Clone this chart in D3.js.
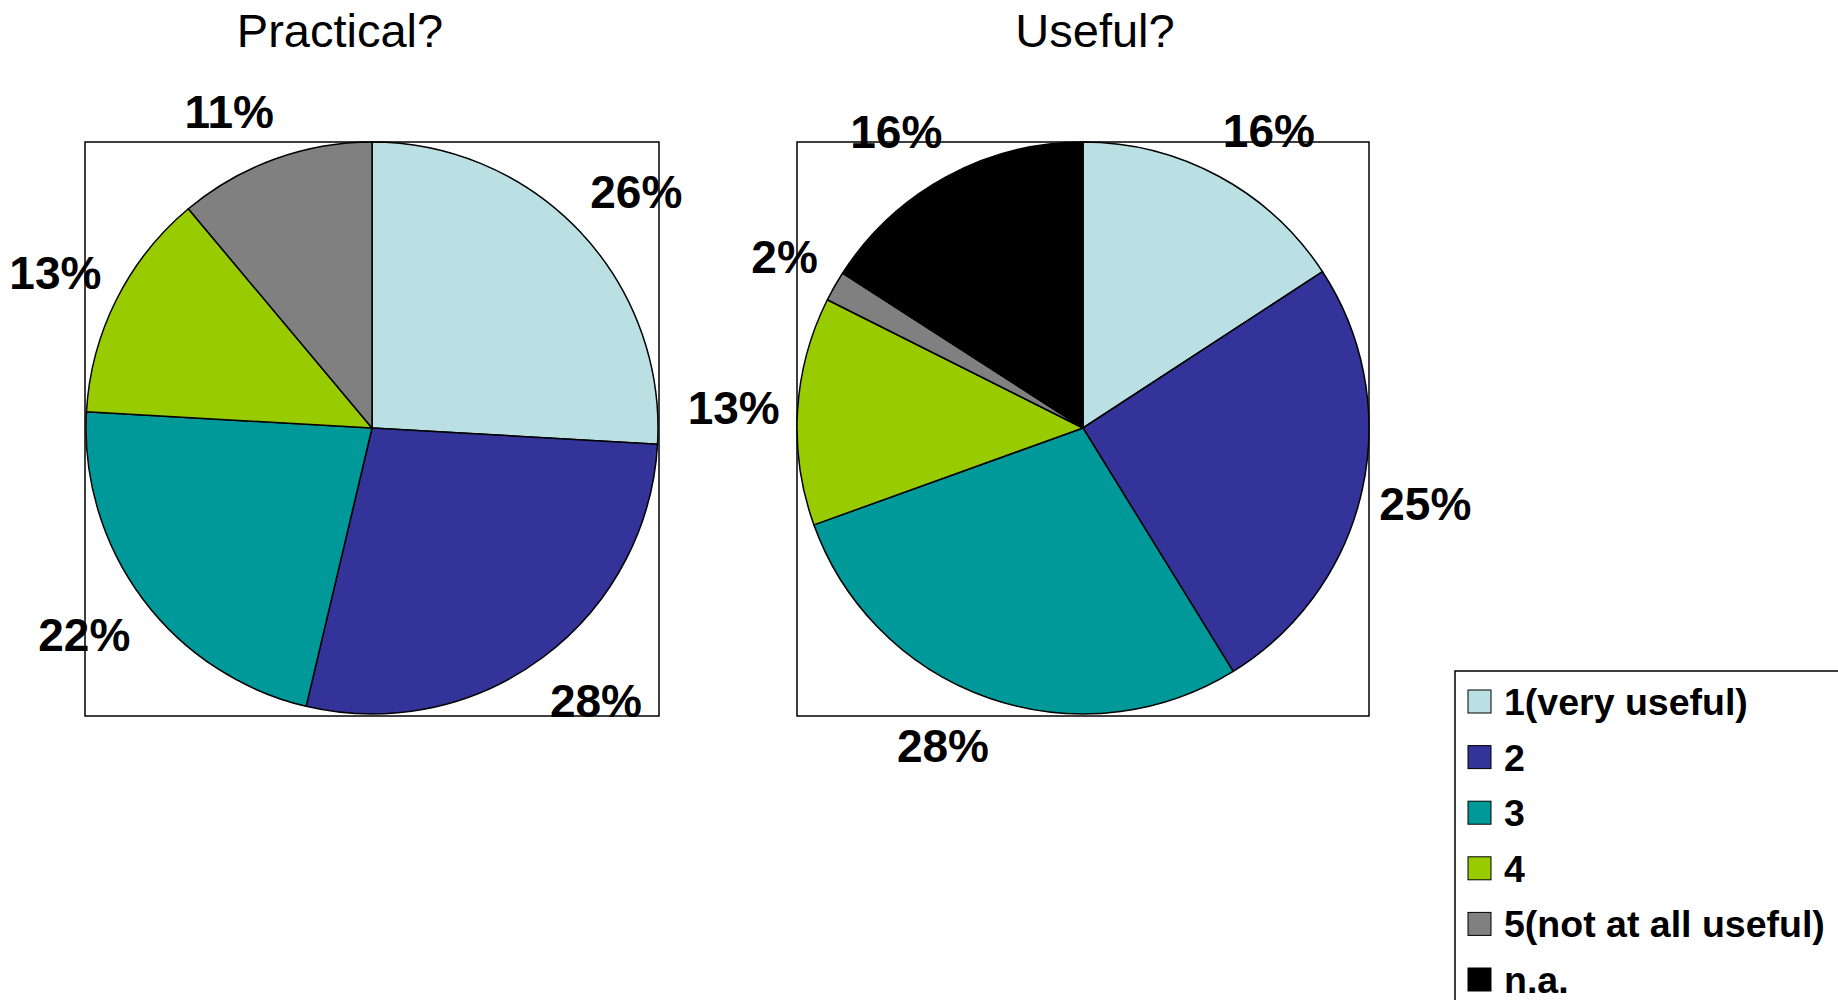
<!DOCTYPE html>
<html>
<head>
<meta charset="utf-8">
<script src="https://cdn.jsdelivr.net/npm/d3@7"></script>
<style>
  html, body { margin: 0; padding: 0; background: #fff; }
  svg { display: block; }
</style>
</head>
<body>
<svg id="chart" width="1838" height="1000"></svg>
<script>
// ---- data ----
const categories = ["1(very useful)", "2", "3", "4", "5(not at all useful)", "n.a."];
const categoryColors = ["#BBE0E3", "#333399", "#009999", "#99CC00", "#808080", "#000000"];
const chartTitles = ["Practical?", "Useful?"];
const practicalValues = [25.9, 27.8, 22.2, 13.0, 11.1];
const usefulValues = [15.8, 25.4, 28.3, 12.9, 1.7, 15.9];

// ---- layout ----
const W = 1838, H = 1000;
const svg = d3.select("#chart");
const font = "'Liberation Sans', Arial, Helvetica, sans-serif";

const panels = [
  { title: chartTitles[0], values: practicalValues, box: { x0: 85, y0: 142, x1: 659, y1: 716 }, titleX: 340 },
  { title: chartTitles[1], values: usefulValues,    box: { x0: 797, y0: 142, x1: 1369, y1: 716 }, titleX: 1095 }
];

const color = d3.scaleOrdinal().domain(categories).range(categoryColors);
const pct = d3.format(".0f");

panels.forEach(p => {
  const g = svg.append("g");
  // plot area box
  g.append("rect")
    .attr("x", p.box.x0).attr("y", p.box.y0)
    .attr("width", p.box.x1 - p.box.x0).attr("height", p.box.y1 - p.box.y0)
    .attr("fill", "#fff").attr("stroke", "#000").attr("stroke-width", 1.5);

  // title
  g.append("text")
    .attr("x", p.titleX).attr("y", 47)
    .attr("text-anchor", "middle")
    .attr("font-family", font).attr("font-size", 47)
    .attr("fill", "#000")
    .text(p.title);

  const cx = (p.box.x0 + p.box.x1) / 2;
  const cy = 428;
  const r = 286;
  const pieG = g.append("g").attr("transform", `translate(${cx},${cy})`);

  const data = p.values.map((v, i) => ({ cat: categories[i], value: v }));
  const pie = d3.pie().sort(null).value(d => d.value).startAngle(0).endAngle(2 * Math.PI);
  const arcs = pie(data);
  const arc = d3.arc().innerRadius(0).outerRadius(r);
  const labelR = r + 27;
  const labelArc = d3.arc().innerRadius(labelR).outerRadius(labelR);

  pieG.selectAll("path.slice")
    .data(arcs)
    .join("path")
    .attr("class", "slice")
    .attr("d", arc)
    .attr("fill", d => color(d.data.cat))
    .attr("stroke", "#000")
    .attr("stroke-width", 1.5)
    .attr("stroke-linejoin", "round");

  // outside-end labels: anchor on the label ring, then push the text box outward
  pieG.selectAll("text.lbl")
    .data(arcs)
    .join("text")
    .attr("class", "lbl")
    .attr("text-anchor", "middle")
    .attr("dy", "0.36em")
    .attr("font-family", font).attr("font-size", 46).attr("font-weight", "bold")
    .attr("fill", "#000")
    .text(d => pct(d.data.value) + "%")
    .each(function (d) {
      const a = (d.startAngle + d.endAngle) / 2;
      const ux = Math.sin(a), uy = -Math.cos(a);
      const [bx, by] = labelArc.centroid(d);
      const hw = this.getComputedTextLength() / 2;
      const ox = Math.sign(ux) * hw * 0.8;
      const oy = 22 * Math.max(-1, Math.min(1, 1.5 * uy));
      d3.select(this).attr("x", bx + ox).attr("y", by + oy);
    });
});

// ---- legend ----
const legend = svg.append("g");
const lgX = 1455, lgY = 671, rowH = 55.6;
legend.append("rect")
  .attr("x", lgX).attr("y", lgY)
  .attr("width", W - lgX + 20).attr("height", H - lgY + 20)
  .attr("fill", "#fff").attr("stroke", "#000").attr("stroke-width", 1.5);

const rowY = d3.scaleLinear().domain([0, 1]).range([lgY + 19, lgY + 19 + rowH]);
const items = legend.selectAll("g.item")
  .data(categories)
  .join("g")
  .attr("class", "item")
  .attr("transform", (d, i) => `translate(${lgX + 13},${rowY(i)})`);

items.append("rect")
  .attr("width", 23).attr("height", 23)
  .attr("fill", d => color(d))
  .attr("stroke", "#000").attr("stroke-width", 1);

items.append("text")
  .attr("x", 36).attr("y", 25)
  .attr("font-family", font).attr("font-size", 37.5).attr("font-weight", "bold")
  .attr("fill", "#000")
  .text(d => d);
</script>
</body>
</html>
